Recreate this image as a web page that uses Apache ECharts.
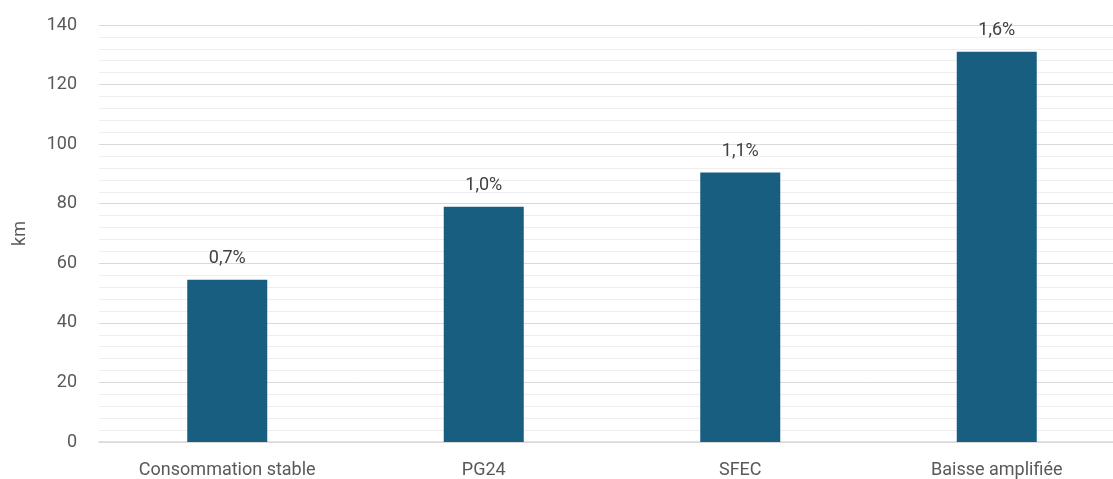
<!DOCTYPE html>
<html>
<head>
<meta charset="utf-8">
<script src="https://cdn.jsdelivr.net/npm/echarts@6/dist/echarts.min.js"></script>
<style>
  html, body { margin: 0; padding: 0; background: #fff; overflow: hidden; }
  #chart { width: 1125px; height: 479px; }
</style>
</head>
<body>
<div id="chart"></div>
<script>
// données
const categories = ['Consommation stable', 'PG24', 'SFEC', 'Baisse amplifiée']
const kmValues = [54.5, 79, 90.5, 131]
const pctLabels = ['0,7%', '1,0%', '1,1%', '1,6%']

// le graphique déborde un peu à droite, comme dans l'original
const chart = echarts.init(document.getElementById('chart'))

chart.setOption({
  animation: false,
  textStyle: { fontFamily: 'Roboto, sans-serif' },
  grid: { left: 99, right: 0, top: 25, bottom: 37 },
  xAxis: {
    type: 'category',
    data: categories,
    axisLine: { show: true, lineStyle: { color: '#d9d9d9', width: 1.5 } },
    axisTick: { show: false },
    axisLabel: { color: '#595959', fontSize: 18, margin: 19 }
  },
  yAxis: {
    type: 'value',
    min: 0,
    max: 140,
    interval: 20,
    name: 'km',
    nameLocation: 'middle',
    nameGap: 70,
    nameRotate: 90,
    nameTextStyle: { color: '#595959', fontSize: 18 },
    axisLine: { show: false },
    axisTick: { show: false },
    axisLabel: { color: '#595959', fontSize: 18, margin: 22 },
    splitLine: { lineStyle: { color: '#d9d9d9', width: 1 } },
    minorTick: { show: false, splitNumber: 5 },
    minorSplitLine: { show: true, lineStyle: { color: '#eeeeee', width: 1 } }
  },
  series: [{
    type: 'bar',
    data: kmValues,
    barWidth: 80,
    itemStyle: { color: '#175e80' },
    label: {
      show: true,
      position: 'top',
      distance: 12,
      color: '#404040',
      fontSize: 18,
      formatter: p => pctLabels[p.dataIndex]
    }
  }]
})
</script>
</body>
</html>
